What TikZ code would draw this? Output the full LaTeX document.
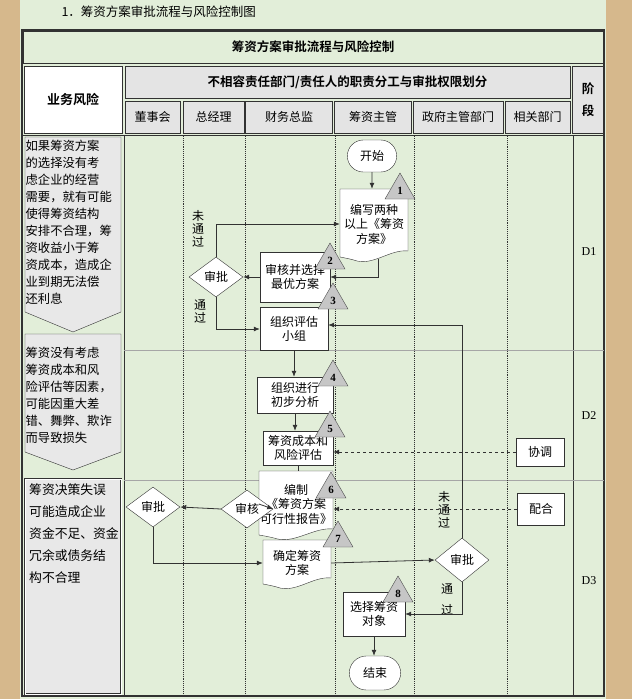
\documentclass[tikz,border=0pt]{standalone}
\usepackage{fontspec}
\setmainfont{Liberation Serif}
\newfontfamily\cjk{Noto Sans CJK SC}
\newfontfamily\cjkb{Noto Sans CJK SC Bold}
\usetikzlibrary{shapes.geometric,shapes.misc,arrows.meta,calc}
\definecolor{pagegreen}{RGB}{226,238,217}
\definecolor{beige}{RGB}{214,184,140}
\definecolor{hdrgray}{RGB}{228,228,228}
\definecolor{riskgray}{RGB}{232,232,232}
\definecolor{lnc}{RGB}{50,50,50}
\tikzset{
 box/.style={draw=lnc,fill=white,inner sep=1pt,align=center,font=\cjk\fontsize{12}{14.5}\selectfont},
 docn/.style={draw=none,inner sep=1pt,align=center,font=\cjk\fontsize{12}{14.5}\selectfont},
 dia/.style={diamond,draw=lnc,fill=white,inner sep=0pt,aspect=1.3,font=\cjk\fontsize{12}{14}\selectfont},
 term/.style={rounded rectangle,draw=lnc,fill=white,font=\cjk\fontsize{12}{14}\selectfont},
 arr/.style={draw=lnc,line width=0.8pt,-{Latex[length=6pt,width=5pt]}},
 darr/.style={arr,dashed},
 hcell/.style={draw=lnc,fill=hdrgray,font=\cjk\fontsize{12}{14}\selectfont,inner sep=0pt},
 lbl/.style={font=\cjk\fontsize{12}{13}\selectfont,align=center,inner sep=0pt},
 lane/.style={draw=lnc,densely dotted,line width=0.9pt},
 risk/.style={font=\cjk\fontsize{12.3}{17}\selectfont,align=left,inner sep=0pt,anchor=north west},
}
\newcommand\docbox[6]{%
 \fill[white,draw=lnc] ({#2-#4/2},{#3-#5/2}) -- ({#2+#4/2},{#3-#5/2}) -- ({#2+#4/2},{#3+#5/2-8})
   .. controls ({#2+#4/4},{#3+#5/2-10}) and ({#2},{#3+#5/2+6}) .. ({#2-#4/4},{#3+#5/2+2})
   .. controls ({#2-#4/3},{#3+#5/2}) and ({#2-#4/2},{#3+#5/2-2}) .. ({#2-#4/2},{#3+#5/2-2}) -- cycle;
 \node[docn,minimum width=#4,minimum height=#5] (#1) at (#2,#3) {#6};}
\newcommand\tri[3]{%
 \fill[gray!45,draw=gray!60!black] ({#1-15},{#2+13}) -- (#1,{#2-13}) -- ({#1+15},{#2+13}) -- cycle;
 \node[font=\bfseries\fontsize{11}{11}\selectfont,inner sep=0pt] at (#1,{#2+5}) {#3};}
\begin{document}
\begin{tikzpicture}[x=1pt,y=-1pt]
\useasboundingbox (0,0) rectangle (632,699);
\fill[beige] (0,0) rectangle (632,699);
\fill[pagegreen] (20,0) rectangle (606,699);
% title
\node[anchor=west,font=\cjk\fontsize{12.5}{14}\selectfont] (title) at (58,12) {1．筹资方案审批流程与风险控制图};
\draw[lnc,line width=1.2pt] (22,30) rectangle (604,696);
\node[draw=lnc,fill=pagegreen,minimum width=580,minimum height=32,inner sep=0pt,font=\cjkb\fontsize{12.5}{14}\selectfont] (t2) at (313,47) {筹资方案审批流程与风险控制};
% header
\node[draw=lnc,fill=white,minimum width=98,minimum height=67,inner sep=0pt,font=\cjkb\fontsize{13}{14}\selectfont] (hr) at (73,100) {业务风险};
\node[hcell,minimum width=445,minimum height=32,font=\cjkb\fontsize{12.5}{14}\selectfont] (hm) at (347.5,82.5) {不相容责任部门/责任人的职责分工与审批权限划分};
\node[hcell,minimum width=31,minimum height=67,align=center,font=\cjkb\fontsize{12.5}{17}\selectfont] (hs) at (588,100) {阶\\[5pt]段};
\node[hcell,minimum width=55,minimum height=32] (h1) at (152.5,117) {董事会};
\node[hcell,minimum width=61,minimum height=32] (h2) at (213.5,117) {总经理};
\node[hcell,minimum width=87,minimum height=32] (h3) at (289,117) {财务总监};
\node[hcell,minimum width=77,minimum height=32] (h4) at (373,117) {筹资主管};
\node[hcell,minimum width=90,minimum height=32] (h5) at (458,117) {政府主管部门};
\node[hcell,minimum width=65,minimum height=32] (h6) at (537.5,117) {相关部门};
% body grid
\draw[lnc,line width=0.8pt] (124,135) -- (124,696);
\draw[lnc,line width=0.8pt] (573,135) -- (573,696);
\draw[lnc] (22,135) -- (604,135);
\draw[gray!70,line width=1pt] (124,350) -- (604,350);
\draw[gray!70,line width=1pt] (124,480) -- (604,480);
\foreach \x in {183,245,335,414,507} \draw[lane] (\x,136) -- (\x,696);
\node[font=\fontsize{12}{12}\selectfont] (d1) at (589,252) {D1};
\node[font=\fontsize{12}{12}\selectfont] (d2) at (589,416) {D2};
\node[font=\fontsize{12}{12}\selectfont] (d3) at (589,581) {D3};
% risk boxes
\draw[lnc,fill=riskgray] (25,137) -- (121,137) -- (121,312) -- (73,332) -- (25,312) -- cycle;
\node[risk] (r1) at (25.5,140) {如果筹资方案\\的选择没有考\\虑企业的经营\\需要，就有可能\\使得筹资结构\\安排不合理，筹\\资收益小于筹\\资成本，造成企\\业到期无法偿\\还利息};
\draw[lnc,fill=riskgray] (25,334) -- (121,334) -- (121,452) -- (73,470) -- (25,452) -- cycle;
\node[risk] (r2) at (25.5,347) {筹资没有考虑\\筹资成本和风\\险评估等因素，\\可能因重大差\\错、舞弊、欺诈\\而导致损失};
\draw[lnc,fill=riskgray,double,double distance=1pt] (25,479) rectangle (121,694);
\node[risk,font=\cjk\fontsize{12.8}{22}\selectfont] (r3) at (29,483) {筹资决策失误\\可能造成企业\\资金不足、资金\\冗余或债务结\\构不合理};
% flow nodes
\node[term,minimum width=56,minimum height=32] (start) at (372,156) {开始};
\docbox{doc1}{374}{224}{68}{70}{编写两种\\以上《筹资\\方案》}
\tri{400}{186}{1}
\node[box,minimum width=70,minimum height=50] (shen) at (295,277) {审核并选择\\最优方案};
\tri{330}{256}{2}
\node[dia,minimum width=54,minimum height=40] (pi1) at (216,277) {审批};
\node[box,minimum width=68,minimum height=43] (zz) at (294,329) {组织评估\\小组};
\tri{333}{296}{3}
\node[lbl] (wt1) at (198,229) {未\\通\\过};
\node[lbl] (tg1) at (200,311) {通\\过};
\node[box,minimum width=76,minimum height=36] (fx) at (295,395) {组织进行\\初步分析};
\tri{333}{373}{4}
\node[box,minimum width=70,minimum height=34] (cb) at (298,448) {筹资成本和\\风险评估};
\tri{330}{424}{5}
\docbox{doc2}{296}{504}{74}{66}{编制\\《筹资方案\\可行性报告》}
\tri{331}{485}{6}
\node[dia,minimum width=52,minimum height=38] (sh2) at (247,509) {审核};
\node[dia,minimum width=54,minimum height=40] (pi2) at (153,507) {审批};
\docbox{doc3}{297}{563}{68}{46}{确定筹资\\方案}
\tri{338}{534}{7}
\node[dia,minimum width=54,minimum height=44] (pi3) at (462,560) {审批};
\node[lbl] (wt2) at (444,510) {未\\通\\过};
\node[lbl,font=\cjk\fontsize{12}{21}\selectfont] (tg2) at (447,599) {通\\过};
\node[box,minimum width=62,minimum height=44] (xz) at (374,614) {选择筹资\\对象};
\tri{398}{589}{8}
\node[term,minimum width=58,minimum height=34] (end) at (375,673) {结束};
\node[box,minimum width=48,minimum height=28] (xt) at (540,452) {协调};
\node[box,minimum width=47,minimum height=32] (ph) at (541,509) {配合};
% connectors
\draw[arr] (start) -- (start|-doc1.north);
\draw[arr] ([xshift=4pt]doc1.south) |- (shen.east);
\draw[arr] (shen.west) -- (pi1.east);
\draw[arr] (pi1.north) |- (doc1.west);
\draw[arr] (pi1.south) |- (zz.west);
\draw[arr] (zz.south) -- (zz.south|-fx.north);
\draw[arr] (fx.south) -- (fx.south|-cb.north);
\draw[lnc,line width=0.8pt] (cb.south) -- (cb.south|-doc2.north);
\draw[arr] (doc2.west) -- (sh2.east);
\draw[arr] (sh2.west) -- (pi2.east);
\draw[arr] (pi2.south) |- (doc3.west);
\draw[arr] (doc3.east) -- (pi3.west);
\draw[arr] (pi3.north) |- ([yshift=4pt]zz.east);
\draw[arr] (pi3.south) |- (xz.east);
\draw[arr] (xz.south) -- (xz.south|-end.north);
\draw[darr] (xt.west) -- (cb.east|-xt.west);
\draw[darr] (ph.west) -- (doc2.east|-ph.west);
\end{tikzpicture}
\end{document}
